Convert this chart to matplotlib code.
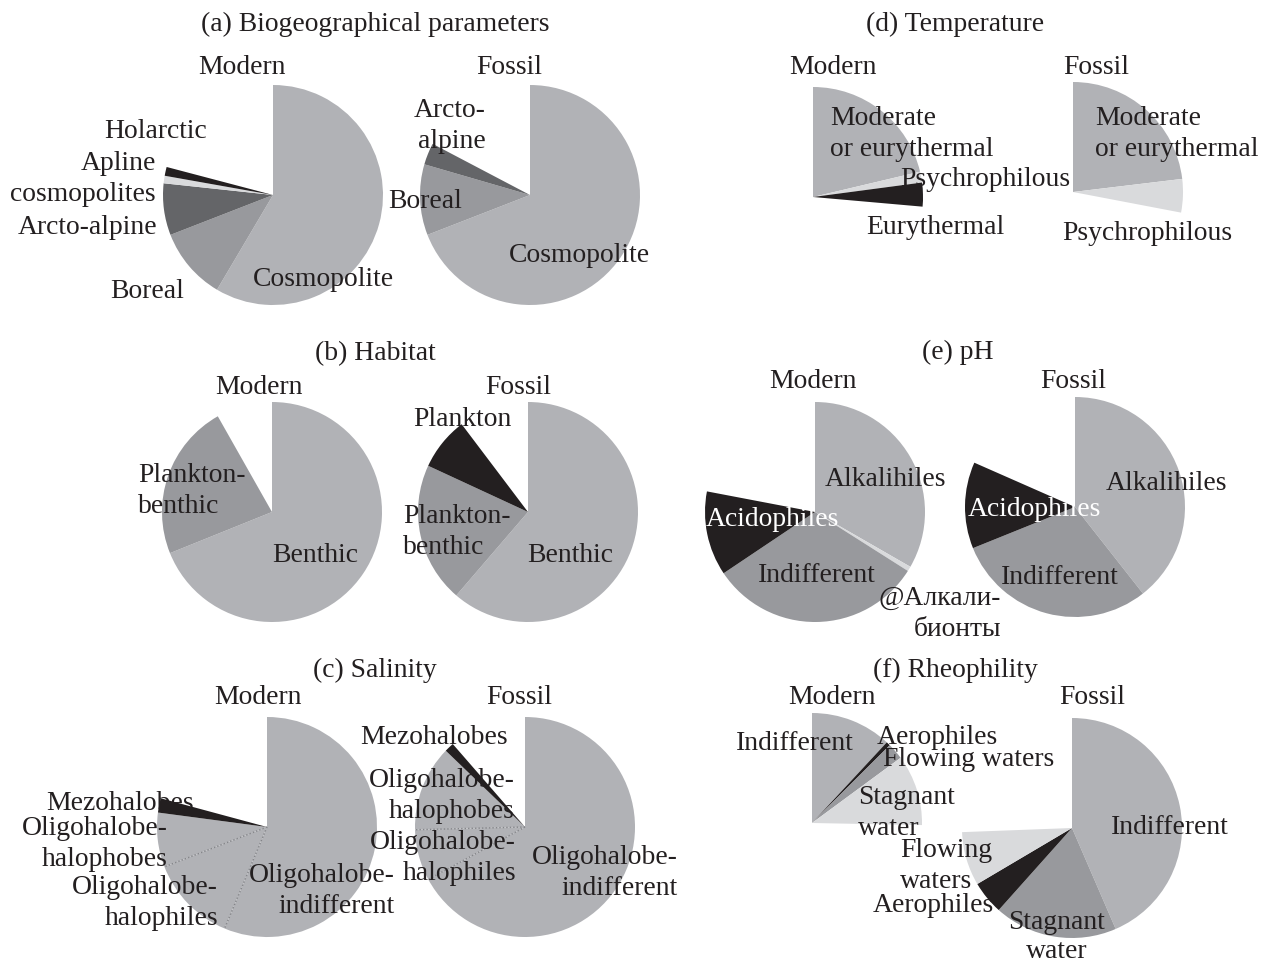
import numpy as np
import matplotlib
matplotlib.use("Agg")
import matplotlib.pyplot as plt

plt.rcParams["font.family"] = ["Liberation Serif", "DejaVu Serif"]

W, H = 1264, 964          # canvas in px, one data unit = one pixel
R = 110                   # pie radius
FS = 19.9
INK = "#231f20"
LIGHT, MID, DARK, PALE, BLACK = "#b1b2b6", "#98999d", "#646568", "#d9dadc", "#231f20"

# ---- shares of taxa, % (pies are not closed: the rest is left blank) ----
# (a) biogeographical parameters
bio_modern_cats = ["Cosmopolite", "Boreal", "Arcto-alpine", "Apline cosmopolites", "Holarctic"]
bio_modern = [58.5, 10.6, 7.6, 1.1, 1.3]
bio_fossil_cats = ["Cosmopolite", "Boreal", "Arcto-alpine"]
bio_fossil = [69.1, 10.4, 3.2]

# (d) temperature
temp_modern_cats = ["Moderate or eurythermal", "Psychrophilous", "Eurythermal"]
temp_modern = [21.3, 1.6, 3.5]
temp_fossil_cats = ["Moderate or eurythermal", "Psychrophilous"]
temp_fossil = [23.1, 4.9]

# (b) habitat
hab_modern_cats = ["Benthic", "Plankton-benthic"]
hab_modern = [68.9, 22.9]
hab_fossil_cats = ["Benthic", "Plankton-benthic", "Plankton"]
hab_fossil = [61.3, 20.6, 7.8]

# (e) pH
ph_modern_cats = ["Alkalihiles", "@Алкалибионты", "Indifferent", "Acidophiles"]
ph_modern = [33.3, 0.7, 31.6, 12.4]
ph_fossil_cats = ["Alkalihiles", "Indifferent", "Acidophiles"]
ph_fossil = [39.4, 29.5, 12.7]

# (c) salinity
sal_cats = ["Oligohalobe-indifferent", "Oligohalobe-halophiles",
            "Oligohalobe-halophobes", "Mezohalobes"]
sal_modern = [56.3, 12.8, 8.0, 2.1]
sal_fossil = [67.1, 7.5, 12.6, 1.4]

# (f) rheophility
rheo_modern_cats = ["Indifferent", "Aerophiles", "Flowing waters", "Stagnant water"]
rheo_modern = [11.9, 0.6, 2.4, 10.4]
rheo_fossil_cats = ["Indifferent", "Stagnant water", "Aerophiles", "Flowing waters"]
rheo_fossil = [43.5, 18.1, 4.9, 7.9]


def pie(ax, vals, colors, cx, cy, r=R):
    ax.pie(np.asarray(vals) / 100, colors=colors, startangle=90, counterclock=False,
           normalize=False, radius=r, center=(cx, H - cy), wedgeprops=dict(linewidth=0))


def seps(ax, vals, idx, cx, cy, r=R):
    # dotted radii between wedges of the same colour
    cum = np.cumsum(vals) / 100
    for i in idx:
        th = np.deg2rad(90 - 360 * cum[i])
        ax.plot([cx, cx + r * np.cos(th)], [H - cy, H - cy + r * np.sin(th)],
                ls=(0, (1, 1.5)), color="#85868a", lw=1.0)


def txt(ax, s, x, y, ha="center", ma=None, color=INK, size=FS, ls=1.28):
    # y is measured from the top; +2 px pulls the glyph body onto the given line
    ax.text(x, H - y - 2, s, ha=ha, va="center", multialignment=ma or ha,
            color=color, fontsize=size, linespacing=ls)


def main():
    fig = plt.figure(figsize=(W / 100, H / 100), dpi=100)
    ax = fig.add_axes([0, 0, 1, 1])

    # --- (a) ---
    pie(ax, bio_modern, [LIGHT, MID, DARK, PALE, BLACK], 273, 195)
    pie(ax, bio_fossil, [LIGHT, MID, DARK], 530, 195)
    # --- (d) ---
    pie(ax, temp_modern, [LIGHT, PALE, BLACK], 813, 197)
    pie(ax, temp_fossil, [LIGHT, PALE], 1073, 192)
    # --- (b) ---
    pie(ax, hab_modern, [LIGHT, MID], 272, 512)
    pie(ax, hab_fossil, [LIGHT, MID, BLACK], 528, 512)
    # --- (e) ---
    pie(ax, ph_modern, [LIGHT, PALE, MID, BLACK], 815, 512)
    pie(ax, ph_fossil, [LIGHT, MID, BLACK], 1075, 507)
    # --- (c) ---
    pie(ax, sal_modern, [LIGHT, LIGHT, LIGHT, BLACK], 267, 827)
    seps(ax, sal_modern, [0, 1], 267, 827)
    pie(ax, sal_fossil, [LIGHT, LIGHT, LIGHT, BLACK], 525, 827)
    seps(ax, sal_fossil, [0, 1], 525, 827)
    # --- (f) ---
    pie(ax, rheo_modern, [LIGHT, BLACK, MID, PALE], 812, 823)
    pie(ax, rheo_fossil, [LIGHT, MID, BLACK, PALE], 1072, 828)

    # panel titles
    txt(ax, "(a) Biogeographical parameters", 375, 22)
    txt(ax, "(d) Temperature", 955, 22)
    txt(ax, "(b) Habitat", 375, 352)
    txt(ax, "(e) pH", 958, 350)
    txt(ax, "(c) Salinity", 375, 668)
    txt(ax, "(f) Rheophility", 955, 668)
    for x, y in [(242, 65), (509, 65), (833, 65), (1096, 65),
                 (259, 385), (518, 385), (813, 380), (1073, 380),
                 (258, 695), (519, 695), (832, 695), (1092, 695)]:
        txt(ax, "Modern" if x < 300 or 700 < x < 900 else "Fossil", x, y)

    # (a) wedge labels
    txt(ax, "Holarctic", 156, 130)
    txt(ax, "Apline\ncosmopolites", 156, 177, ha="right")
    txt(ax, "Arcto-alpine", 157, 225, ha="right")
    txt(ax, "Boreal", 147, 290)
    txt(ax, "Cosmopolite", 323, 277)
    txt(ax, "Arcto-\nalpine", 450, 124, ma="right")
    txt(ax, "Boreal", 425, 200)
    txt(ax, "Cosmopolite", 579, 253)
    # (d)
    txt(ax, "Moderate\nor eurythermal", 830, 132, ha="left")
    txt(ax, "Psychrophilous", 985, 177)
    txt(ax, "Eurythermal", 935, 225)
    txt(ax, "Moderate\nor eurythermal", 1095, 132, ha="left")
    txt(ax, "Psychrophilous", 1147, 232)
    # (b)
    txt(ax, "Plankton-\nbenthic", 138, 489, ha="left")
    txt(ax, "Benthic", 315, 553)
    txt(ax, "Plankton", 462, 417)
    txt(ax, "Plankton-\nbenthic", 403, 530, ha="left")
    txt(ax, "Benthic", 570, 553)
    # (e)
    txt(ax, "Alkalihiles", 885, 478)
    txt(ax, "Acidophiles", 772, 518, color="white")
    txt(ax, "Indifferent", 817, 573)
    txt(ax, "@Алкали-\nбионты", 1001, 612, ha="right")
    txt(ax, "Alkalihiles", 1166, 482)
    txt(ax, "Acidophiles", 1034, 507, color="white")
    txt(ax, "Indifferent", 1060, 575)
    # (c)
    txt(ax, "Mezohalobes", 120, 802)
    txt(ax, "Oligohalobe-\nhalophobes", 168, 842, ha="right")
    txt(ax, "Oligohalobe-\nhalophiles", 218, 901, ha="right")
    txt(ax, "Oligohalobe-\nindifferent", 395, 889, ha="right")
    txt(ax, "Mezohalobes", 434, 735)
    txt(ax, "Oligohalobe-\nhalophobes", 515, 794, ha="right")
    txt(ax, "Oligohalobe-\nhalophiles", 516, 856, ha="right")
    txt(ax, "Oligohalobe-\nindifferent", 678, 871, ha="right")
    # (f)
    txt(ax, "Indifferent", 795, 742)
    txt(ax, "Aerophiles", 937, 735)
    txt(ax, "Flowing waters", 969, 758)
    txt(ax, "Stagnant\nwater", 858, 811, ha="left")
    txt(ax, "Indifferent", 1170, 825)
    txt(ax, "Flowing\nwaters", 900, 864, ha="left")
    txt(ax, "Aerophiles", 933, 903)
    txt(ax, "Stagnant\nwater", 1057, 935, ls=1.2)

    ax.set_xlim(0, W)
    ax.set_ylim(0, H)
    ax.set_aspect("equal")
    ax.axis("off")
    fig.savefig("out.png", dpi=100, facecolor="white")
    plt.close(fig)


if __name__ == "__main__":
    main()
